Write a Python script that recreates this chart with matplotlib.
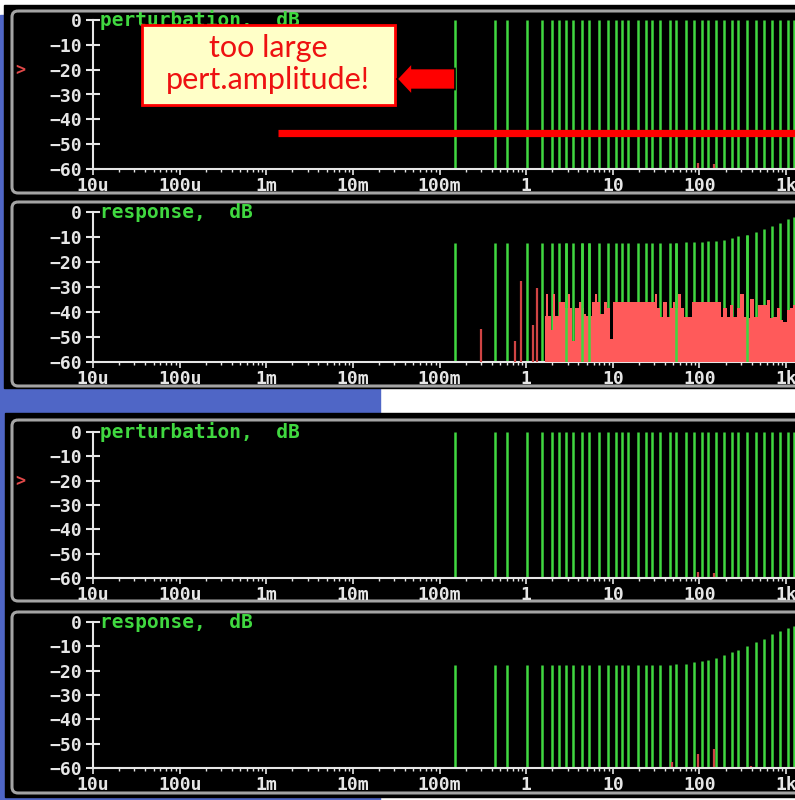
import matplotlib
matplotlib.use("Agg")
import matplotlib.pyplot as plt
from matplotlib.patches import Rectangle, FancyBboxPatch, FancyArrow
from matplotlib.ticker import LogLocator, NullFormatter

# ---- data ----
# multisine lines, Hz (same grid in all four panels)
freqs = [0.152, 0.439, 0.599, 1.03, 1.52, 1.98, 2.42, 2.87, 3.51, 4.39,
         5.37, 7.0, 8.75, 10.8, 12.7, 15.0, 19.4, 24.0, 28.4, 35.1,
         45.8, 53.7, 70.0, 86.6, 107, 127, 155, 192, 239, 281,
         351, 453, 561, 693, 851, 1060, 1250]
# perturbation spectrum, dB (flat)
pert_db = [0.0, 0.0, 0.0, 0.0, 0.0, 0.0, 0.0, 0.0, 0.0, 0.0,
           0.0, 0.0, 0.0, 0.0, 0.0, 0.0, 0.0, 0.0, 0.0, 0.0,
           0.0, 0.0, 0.0, 0.0, 0.0, 0.0, 0.0, 0.0, 0.0, 0.0,
           0.0, 0.0, 0.0, 0.0, 0.0, 0.0, 0.0]
# response with too large perturbation amplitude, dB
resp_large_db = [-12.5, -12.5, -12.5, -12.5, -12.5, -12.5, -12.5, -12.5, -12.5, -12.5,
                 -12.5, -12.5, -12.5, -12.5, -12.5, -12.5, -12.5, -12.5, -12.5, -12.5,
                 -12.5, -12.5, -12.1, -12.1, -11.9, -11.6, -11.6, -11.1, -10.5, -9.7,
                 -9.2, -8.1, -6.8, -5.5, -4.4, -2.8, -1.9]
# response with proper amplitude, dB
resp_ok_db = [-17.7, -17.7, -17.7, -17.7, -17.7, -17.7, -17.7, -17.7, -17.7, -17.7,
              -17.7, -17.7, -17.7, -17.7, -17.7, -17.7, -17.7, -17.7, -17.7, -17.7,
              -17.7, -17.1, -17.1, -16.6, -16.2, -15.8, -14.8, -13.7, -12.3, -11.4,
              -9.9, -8.4, -7.0, -4.9, -3.6, -2.6, -1.6]

# small non-excited components in the perturbation
pert_dist_f = [95.5, 149]
pert_dist_db = [-57.5, -58.0]

# isolated distortion spikes in the large response (below the band)
spike_f = [0.30, 0.75, 0.88, 1.21, 1.35]
spike_db = [-46.8, -51.5, -27.5, -45.2, -30.3]

# nonlinear distortion band in the large response
noise_f = [1.63, 1.73, 1.84, 1.98, 2.10, 2.26, 2.47, 2.70, 2.94, 3.16,
           3.33, 3.52, 3.74, 4.02, 4.20, 4.51, 4.80, 5.10, 5.47, 5.98,
           6.37, 6.83, 7.47, 8.15, 8.91, 9.73, 10.6, 12.1, 14.5, 17.3,
           20.6, 24.6, 29.4, 31.6, 33.6, 36.7, 40.1, 43.8, 48.0, 50.9,
           54.7, 59.7, 64.1, 70.0, 77.9, 85.1, 102, 121, 145, 170,
           181, 197, 216, 236, 258, 281, 313, 336, 367, 408,
           438, 500, 571, 624, 682, 745, 813, 889, 971, 1060,
           1160, 1270]
noise_db = [-41.5, -32.8, -41.5, -47.2, -32.8, -41.5, -36.1, -36.1, -38.5, -32.8,
            -38.5, -51.5, -38.5, -38.5, -36.1, -38.5, -40.9, -41.5, -41.5, -36.1,
            -32.8, -36.1, -40.8, -36.1, -38.5, -50.8, -36.1, -36.1, -36.1, -36.1,
            -36.1, -36.1, -36.1, -32.8, -38.5, -41.9, -36.1, -41.9, -38.5, -36.1,
            -38.5, -32.8, -38.5, -41.9, -41.9, -36.1, -36.1, -36.1, -36.1, -36.1,
            -41.9, -38.5, -41.9, -37.2, -41.9, -38.5, -32.8, -41.9, -42.5, -34.8,
            -41.9, -37.2, -37.2, -35.2, -42.5, -41.9, -38.5, -43.2, -43.9, -39.2,
            -38.5, -37.2]

# green lines that stay visible through the distortion band
through_f = [2.87, 4.39, 5.37, 53.7, 351]

# distortion in the proper response
resp_dist_f = [48.7, 95.5, 149, 239, 293, 390]
resp_dist_db = [-57.7, -54.2, -52.3, -59.7, -59.7, -59.0]

yticks = [0, -10, -20, -30, -40, -50, -60]
ylabels = ["0", "\u221210", "\u221220", "\u221230", "\u221240", "\u221250", "\u221260"]
xticks = [1e-5, 1e-4, 1e-3, 1e-2, 1e-1, 1, 10, 100, 1000]
xlabels = ["10u", "100u", "1m", "10m", "100m", "1", "10", "100", "1k"]
titles = ["perturbation,  dB", "response,  dB", "perturbation,  dB", "response,  dB"]

GREEN = "#40d840"
LIGHT = "#e6e6e6"
BLUE = "#4f66c6"
SALMON = "#ff5a5a"
DARKRED = "#d04444"

plt.rcParams["font.family"] = ["DejaVu Sans Mono"]
plt.rcParams["font.weight"] = "bold"

W, H = 795, 800
fig = plt.figure(figsize=(W / 100, H / 100), dpi=100, facecolor="white")

# background in pixel coordinates
bg = fig.add_axes([0, 0, 1, 1], zorder=0)
bg.set_xlim(0, W)
bg.set_ylim(H, 0)
bg.axis("off")
bg.add_patch(Rectangle((0, 15), 5, H - 15, color=BLUE))
bg.add_patch(Rectangle((0, 388), 380, 25, color=BLUE))
bg.add_patch(Rectangle((0, 797), 380, 3, color=BLUE))
bg.add_patch(Rectangle((4, 5), W, 383, color="black"))
bg.add_patch(Rectangle((5, 413), W, 384, color="black"))
for top, bot in [(11, 193), (202, 386), (420, 601), (612, 793)]:
    bg.add_patch(FancyBboxPatch((12, top), W + 20, bot - top,
                                boxstyle="round,pad=0,rounding_size=6",
                                fc="none", ec="#a4a4a4", lw=2.2))

# plot panels: (pixel y of 0 dB, pixel y of -60 dB)
rows = [(20, 169), (212, 362), (432, 578), (622, 768)]
x0 = 93
axes = []
for (ytop, ybot), title in zip(rows, titles):
    ax = fig.add_axes([x0 / W, 1 - ybot / H, (W - x0) / W, (ybot - ytop) / H], zorder=2)
    ax.set_facecolor("none")
    ax.set_xscale("log")
    ax.set_xlim(1e-5, 10 ** 3.103)
    ax.set_ylim(-60, 0)
    for s in ["top", "right"]:
        ax.spines[s].set_visible(False)
    for s in ["left", "bottom"]:
        ax.spines[s].set_color(LIGHT)
        ax.spines[s].set_linewidth(1.5)
    ax.set_yticks(yticks, ylabels)
    ax.set_xticks(xticks, xlabels)
    ax.xaxis.set_minor_locator(LogLocator(base=10, subs=range(2, 10), numticks=20))
    ax.xaxis.set_minor_formatter(NullFormatter())
    ax.tick_params(axis="y", direction="inout", length=9.5, width=1.5, colors=LIGHT,
                   pad=3, labelsize=13)
    ax.tick_params(axis="x", which="major", direction="out", length=4.5, width=1.2,
                   colors=LIGHT, pad=1, labelsize=13)
    ax.tick_params(axis="x", which="minor", direction="out", length=2.5, width=1.0,
                   colors=LIGHT)
    ax.text(0.01, 0, title, transform=ax.get_yaxis_transform(), color=GREEN,
            fontsize=14, va="center", ha="left")
    axes.append(ax)

ax1, ax2, ax3, ax4 = axes

# perturbation panels
for ax in (ax1, ax3):
    ax.vlines(freqs, -60, pert_db, color=GREEN, lw=1.8, clip_on=False)
    ax.vlines(pert_dist_f, -60, pert_dist_db, color=DARKRED, lw=1.6)
    ax.text(-0.104, -20, ">", transform=ax.get_yaxis_transform(), color="#e04848",
            fontsize=12, va="center", ha="center", clip_on=False)

# large response
ax2.vlines(freqs, -60, resp_large_db, color=GREEN, lw=1.8, zorder=2)
ax2.vlines(spike_f, -60, spike_db, color=DARKRED, lw=1.6, zorder=3)
ax2.fill_between(noise_f, -60, noise_db, step="mid", color=SALMON, lw=0, zorder=3)
through_db = [resp_large_db[freqs.index(f)] for f in through_f]
ax2.vlines(through_f, -60, through_db, color=GREEN, lw=1.8, zorder=4)

# proper response
ax4.vlines(freqs, -60, resp_ok_db, color=GREEN, lw=1.8)
ax4.vlines(resp_dist_f, -60, resp_dist_db, color=DARKRED, lw=1.6)

# annotation: thick red line in the perturbation panel
ax1.plot([1.35e-3, 10 ** 3.103], [-45.5, -45.5], color="#ff0000", lw=5.2,
         solid_capstyle="butt", zorder=5)

# callout box and arrow (pixel coordinates)
ov = fig.add_axes([0, 0, 1, 1], zorder=5)
ov.set_xlim(0, W)
ov.set_ylim(H, 0)
ov.axis("off")
ov.add_patch(Rectangle((142, 25), 253, 80, fc="#ffffc8", ec="#ff0000", lw=2.0))
ov.text(268, 48, "too large", color="#ee1111", fontsize=22, family="Lato",
        weight="normal", ha="center", va="center")
ov.text(268, 80, "pert.amplitude!", color="#ee1111", fontsize=22, family="Lato",
        weight="normal", ha="center", va="center")
ov.add_patch(FancyArrow(455, 79, -58, 0, width=21, head_width=32, head_length=15,
                        length_includes_head=True, fc="#ff0000", ec="black", lw=1.2))

fig.savefig("out.png", dpi=100, facecolor="white")
